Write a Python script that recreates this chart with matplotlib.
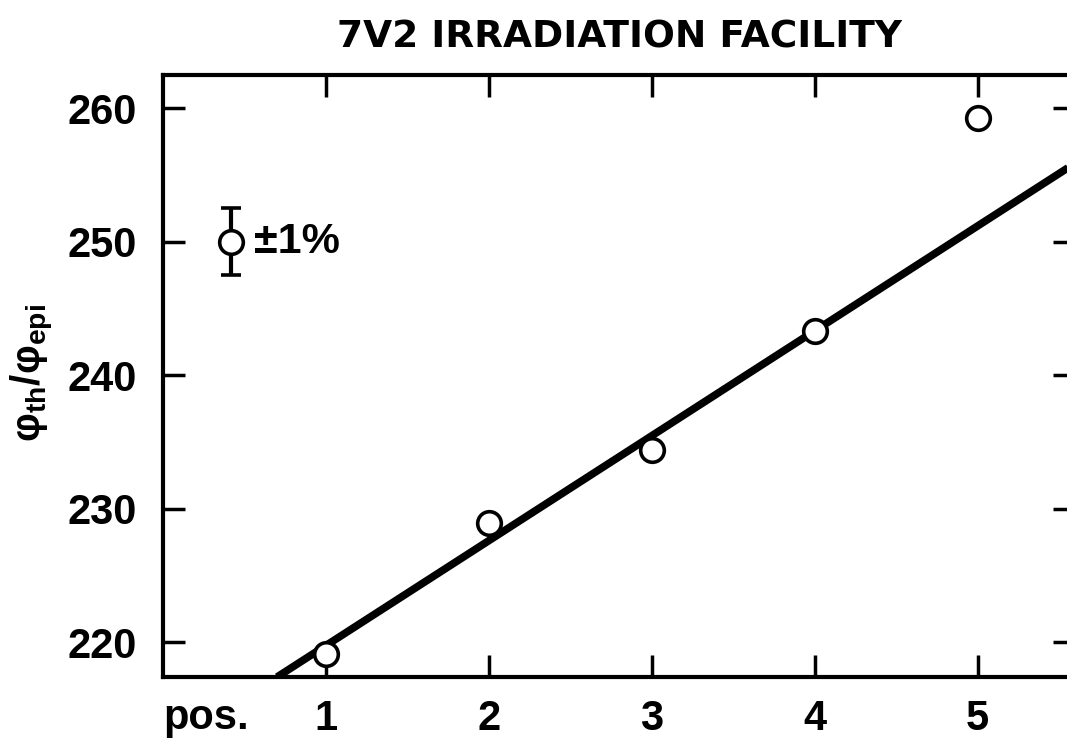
import matplotlib
matplotlib.use("Agg")
import matplotlib.pyplot as plt

# measured points
positions = [1, 2, 3, 4, 5]
ratios = [219.1, 228.9, 234.4, 243.3, 259.3]

# straight line drawn through the points (end points)
line_x = [0.70, 5.6]
line_y = [217.4, 255.9]

y_ticks = [220, 230, 240, 250, 260]
x_tick_labels = ["1", "2", "3", "4", "5"]

plt.rcParams['font.family'] = ['Liberation Sans', 'DejaVu Sans']
plt.rcParams['font.weight'] = 'bold'
plt.rcParams['mathtext.fontset'] = 'custom'
plt.rcParams['mathtext.rm'] = 'Liberation Sans:bold'
plt.rcParams['mathtext.it'] = 'Liberation Sans:bold'
plt.rcParams['mathtext.bf'] = 'Liberation Sans:bold'
plt.rcParams['mathtext.default'] = 'bf'

fig = plt.figure(figsize=(10.67, 7.46), dpi=100)
ax = fig.add_axes([0.1528, 0.0925, 0.855, 0.807])

ax.plot(line_x, line_y, color='black', lw=5.5, solid_capstyle='butt')
ax.plot(positions, ratios, 'o', ms=17, mfc='white', mec='black', mew=2.6, zorder=3)

# error bar key
ax.errorbar([0.42], [250], yerr=[2.5], fmt='o', ms=17, mfc='white', mec='black', mew=2.6,
            ecolor='black', elinewidth=3, capsize=7, capthick=3.5)
ax.text(0.56, 250, "±1%", fontsize=31, fontweight='bold', va='center', ha='left')

ax.set_xlim(0, 5.6)
ax.set_ylim(217.4, 262.5)
ax.set_yticks(y_ticks)
ax.set_xticks(positions)
ax.set_xticklabels(x_tick_labels)

ax.tick_params(axis='both', direction='in', length=16, width=2.5, labelsize=30,
               top=True, right=True, pad=16)
ax.tick_params(axis='y', pad=19)
for s in ax.spines.values():
    s.set_linewidth(3)

ax.text(0.0, -0.035, "pos.", transform=ax.transAxes, fontsize=30, fontweight='bold',
        ha='left', va='top')
fig.text(0.03, 0.50, r'$\varphi_{th}/\varphi_{epi}$', fontsize=29, rotation=90,
         ha='center', va='center')
ax.set_title("7V2 IRRADIATION FACILITY", fontsize=27, fontweight='bold', pad=20,
             family='DejaVu Sans')

fig.savefig("out.png", dpi=100)
